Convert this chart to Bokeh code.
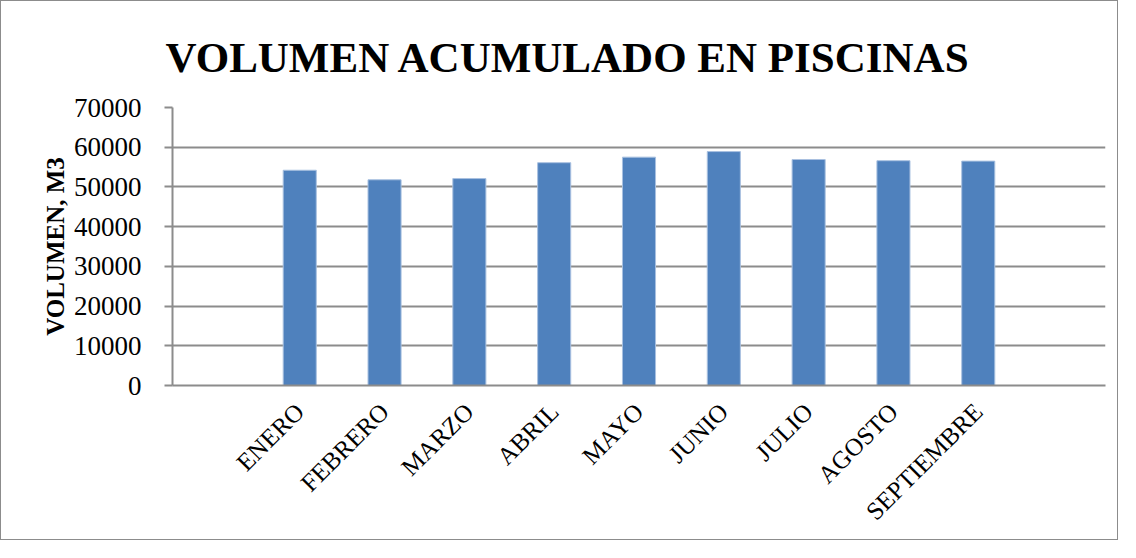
import math
from bokeh.plotting import figure
from bokeh.models import Range1d, FixedTicker, ColumnDataSource
from bokeh.embed import file_html
from bokeh.resources import INLINE

months = ["ENERO", "FEBRERO", "MARZO", "ABRIL", "MAYO", "JUNIO", "JULIO", "AGOSTO", "SEPTIEMBRE"]
volumes = [54200, 51800, 52100, 56100, 57500, 58900, 56900, 56600, 56500]
y_ticks = [0, 10000, 20000, 30000, 40000, 50000, 60000, 70000]
title_text = "VOLUMEN ACUMULADO EN PISCINAS"
y_label = "VOLUMEN, M3"

idx = list(range(len(months)))
src = ColumnDataSource(dict(x=idx, top=volumes, name=months))

GRID = "#8c8c8c"
FONT = "Liberation Serif"

p = figure(width=1118, height=540, output_backend="svg", toolbar_location=None,
           x_range=Range1d(-1.5, len(months) + 0.5), y_range=Range1d(0, 70000),
           min_border_left=171, min_border_right=14, min_border_top=106, min_border_bottom=156)
p.styles = {"border": "1px solid #8c8c8c"}
p.outline_line_color = None
p.background_fill_color = "white"
p.border_fill_color = "white"

p.title.text = title_text
p.title.text_font = FONT
p.title.text_font_style = "bold"
p.title.text_font_size = "43px"
p.title.text_color = "black"
p.title.align = "left"
p.title.text_line_height = 0.5
p.title.offset = -7
p.title.standoff = 54

p.vbar(x="x", top="top", width=0.39, source=src, fill_color="#4F81BD", line_color="#a9c1e0", line_width=1)

# axes
p.xaxis.ticker = FixedTicker(ticks=idx)
p.xaxis.major_label_overrides = {i: m for i, m in zip(idx, months)}
p.xaxis.major_label_orientation = math.pi / 4
p.xaxis.major_tick_line_color = None
p.xaxis.minor_tick_line_color = None
p.xaxis.axis_line_color = GRID
p.xaxis.axis_line_width = 2
p.xaxis.major_label_text_font = FONT
p.xaxis.major_label_text_font_size = "25px"
p.xaxis.major_label_text_color = "black"
p.xaxis.major_label_standoff = 16

p.yaxis.ticker = FixedTicker(ticks=y_ticks)
p.yaxis.minor_tick_line_color = None
p.yaxis.major_tick_in = 0
p.yaxis.major_tick_out = 8
p.yaxis.major_tick_line_color = GRID
p.yaxis.major_tick_line_width = 2
p.yaxis.axis_line_color = GRID
p.yaxis.axis_line_width = 2
p.yaxis.major_label_text_font = FONT
p.yaxis.major_label_text_font_size = "27px"
p.yaxis.major_label_text_color = "black"
p.yaxis.major_label_standoff = 23
p.yaxis.axis_label = y_label
p.yaxis.axis_label_text_font = FONT
p.yaxis.axis_label_text_font_style = "bold"
p.yaxis.axis_label_text_font_size = "25px"
p.yaxis.axis_label_text_color = "black"
p.yaxis.axis_label_standoff = 2

p.xgrid.grid_line_color = None
p.ygrid.ticker = FixedTicker(ticks=y_ticks)
p.ygrid.grid_line_color = GRID
p.ygrid.grid_line_width = 2

open("out.html", "w").write(file_html(p, INLINE))
